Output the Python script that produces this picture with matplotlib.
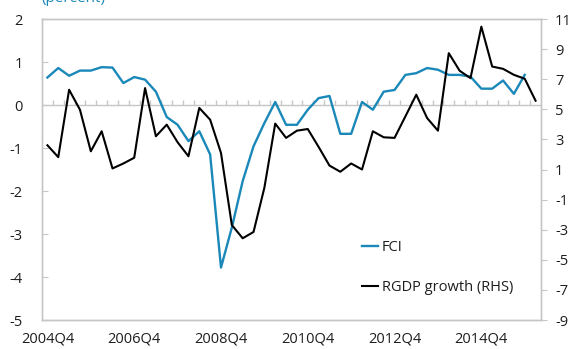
import numpy as np
import pandas as pd
import matplotlib
matplotlib.use("Agg")
import matplotlib.pyplot as plt
from matplotlib.lines import Line2D

plt.rcParams['font.family'] = ['Open Sans', 'DejaVu Sans']
plt.rcParams['axes.unicode_minus'] = False

# quarterly series, 2004Q4 onwards
quarters = [str(p) for p in pd.period_range('2004Q4', periods=46, freq='Q')]

fci = [0.64, 0.86, 0.68, 0.80, 0.80, 0.88, 0.87, 0.51, 0.65, 0.59,
       0.31, -0.28, -0.46, -0.84, -0.61, -1.15, -3.78, -2.85, -1.77, -0.96,
       -0.42, 0.07, -0.46, -0.46, -0.11, 0.16, 0.21, -0.67, -0.67, 0.07,
       -0.11, 0.31, 0.35, 0.70, 0.74, 0.86, 0.82, 0.70, 0.70, 0.66,
       0.38, 0.38, 0.57, 0.26, 0.70]

rgdp = [2.61, 1.82, 6.30, 4.97, 2.21, 3.54, 1.07, 1.40, 1.78, 6.41,
        3.21, 3.98, 2.81, 1.88, 5.09, 4.31, 2.10, -2.69, -3.57, -3.15,
        -0.21, 4.05, 3.10, 3.58, 3.69, 2.50, 1.26, 0.85, 1.40, 1.00,
        3.54, 3.14, 3.10, 4.53, 5.97, 4.42, 3.58, 8.73, 7.56, 7.07,
        10.49, 7.84, 7.69, 7.29, 7.03, 5.57]

tick_labels = ['2004Q4', '2006Q4', '2008Q4', '2010Q4', '2012Q4', '2014Q4']

blue = '#1a88b8'
grey = '#c6c6c6'
txt = '#1e1e1e'

fig = plt.figure(figsize=(5.71, 3.49), dpi=100)
ax = fig.add_axes([42 / 571, 1 - 320 / 349, 499 / 571, 301 / 349])
ax2 = ax.twinx()

x = np.arange(len(quarters))

# zero line with a small mark at every quarter boundary
ax.axhline(0, color=grey, lw=1.0, zorder=1)
ax.vlines(np.arange(0.5, len(quarters) - 1, 1), 0, 0.12, color=grey, lw=1.0, zorder=1)

ax.plot(x[:len(fci)], fci, color=blue, lw=1.7, label='FCI', zorder=3)
ax2.plot(x, rgdp, color='black', lw=1.5, label='RGDP growth (RHS)')

ax.set_xlim(-0.5, len(quarters) - 0.5)
ax.set_ylim(-5, 2)
ax2.set_ylim(-9, 11)
ax.set_yticks(np.arange(-5, 3, 1))
ax2.set_yticks(np.arange(-9, 12, 2))

ax.set_xticks([quarters.index(q) for q in tick_labels])
ax.set_xticklabels(tick_labels)
ax.tick_params(axis='x', length=0, pad=8, labelsize=10.5, labelcolor=txt)
ax.tick_params(axis='y', direction='in', length=4, color=grey, pad=14,
               labelsize=10.5, labelcolor=txt)
ax2.tick_params(axis='y', direction='out', length=4, color=grey, pad=6,
                labelsize=10.5, labelcolor=txt)

for a in (ax, ax2):
    for s in a.spines.values():
        s.set_color(grey)
        s.set_linewidth(1.0)

fig.text(41 / 571, 1 - 2 / 349, '(percent)', color=blue, fontsize=11,
         va='baseline', ha='left')

handles = [Line2D([], [], color=blue, lw=1.7), Line2D([], [], color='black', lw=1.5)]
ax2.legend(handles, ['FCI', 'RGDP growth (RHS)'], loc='upper left',
           bbox_to_anchor=((362 - 42) / 499, (320 - 240) / 301),
           frameon=False, fontsize=10.5, handlelength=1.1, handletextpad=0.25,
           labelspacing=1.7, borderpad=0, borderaxespad=0, labelcolor=txt)

fig.savefig('out.png', dpi=100)
